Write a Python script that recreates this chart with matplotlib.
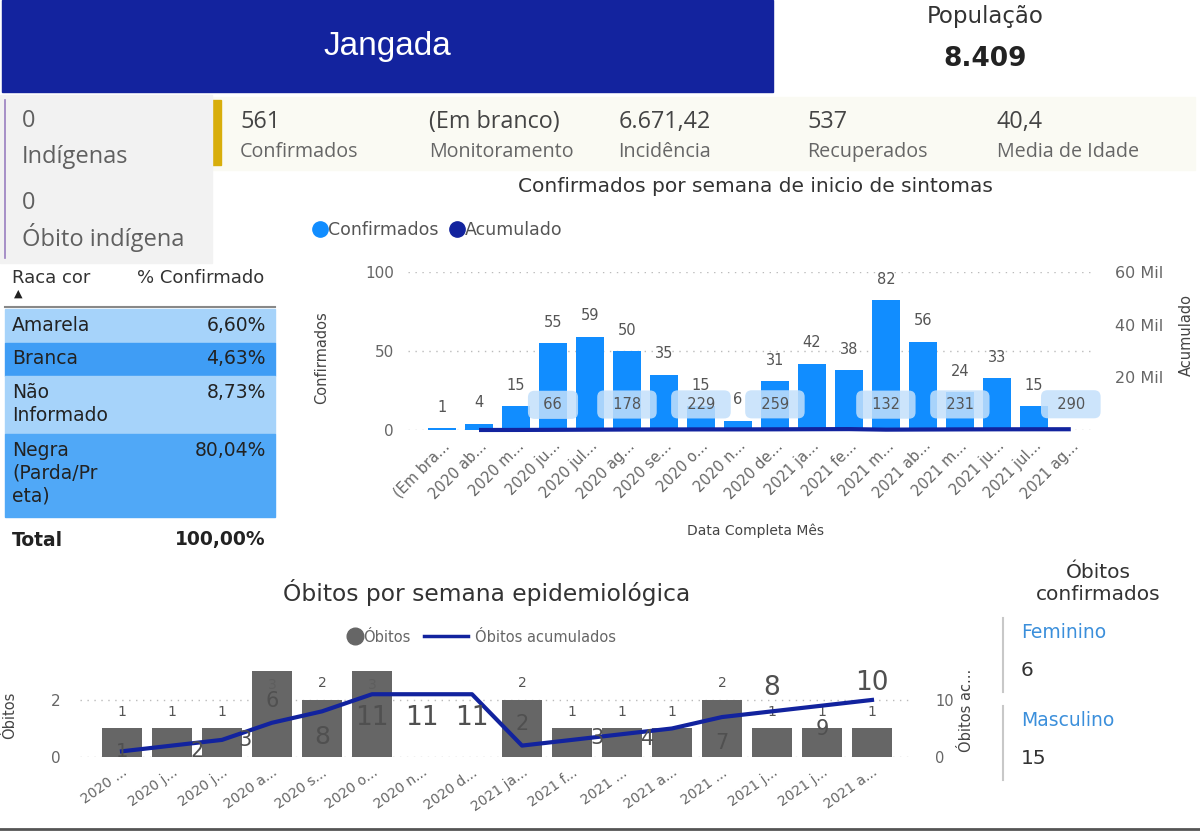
import numpy as np
import matplotlib
matplotlib.use("Agg")
import matplotlib.pyplot as plt
from matplotlib.patches import Rectangle
from matplotlib.lines import Line2D
from matplotlib.ticker import FuncFormatter

W, H = 1200, 832

# ---- dados ----
municipio = "Jangada"
populacao = "8.409"
kpi_values = ["561", "(Em branco)", "6.671,42", "537", "40,4"]
kpi_labels = ["Confirmados", "Monitoramento", "Incidência", "Recuperados", "Media de Idade"]
indigenas = 0
obito_indigena = 0

raca = ["Amarela", "Branca", "Não\nInformado", "Negra\n(Parda/Pr\neta)"]
pct_confirmado = [6.60, 4.63, 8.73, 80.04]

meses = ["(Em bra...", "2020 ab...", "2020 m...", "2020 ju...", "2020 jul...", "2020 ag...",
         "2020 se...", "2020 o...", "2020 n...", "2020 de...", "2021 ja...", "2021 fe...",
         "2021 m...", "2021 ab...", "2021 m...", "2021 ju...", "2021 jul...", "2021 ag..."]
confirmados = [1, 4, 15, 55, 59, 50, 35, 15, 6, 31, 42, 38, 82, 56, 24, 33, 15, np.nan]
acumulado = [np.nan, 5, 20, 66, 125, 178, 213, 229, 235, 259, 301, 339, 132, 188, 231, 264, 279, 290]
acum_rotulos = [3, 5, 7, 9, 12, 14, 17]  # pontos com rotulo visivel

semanas = ["2020 ...", "2020 j...", "2020 j...", "2020 a...", "2020 s...", "2020 o...",
           "2020 n...", "2020 d...", "2021 ja...", "2021 f...", "2021 ...", "2021 a...",
           "2021 ...", "2021 j...", "2021 j...", "2021 a..."]
obitos = [1, 1, 1, 3, 2, 3, np.nan, np.nan, 2, 1, 1, 1, 2, 1, 1, 1]
obitos_acum = [1, 2, 3, 6, 8, 11, 11, 11, 2, 3, 4, 5, 7, 8, 9, 10]

sexo = ["Feminino", "Masculino"]
obitos_sexo = [6, 15]

# ---- estilo ----
AZUL = "#118DFF"
NAVY = "#12239E"
CINZA = "#666666"
row_colors = ["#A6D3FA", "#3F9DF5", "#A6D3FA", "#50A8F7"]
# deslocamento (px) e tamanho dos rotulos do acumulado de obitos
acum_off = [(0, 0), (25, -5), (23, 0), (0, 22), (0, -26), (0, -24), (0, -24), (0, -24),
            (0, 22), (25, 2), (26, -5), None, (0, -26), (0, 23), (0, -23), (0, 17)]
acum_size = [14, 15, 15, 15, 18, 19, 19, 19, 15, 15, 15, 15, 15, 19, 15, 19]

plt.rcParams['font.family'] = ['DejaVu Sans']

fig = plt.figure(figsize=(12, 8.32), dpi=100)
bg = fig.add_axes([0, 0, 1, 1])
bg.set_xlim(0, W)
bg.set_ylim(H, 0)
bg.axis('off')


def px_axes(x0, y0, x1, y1):
    return fig.add_axes([x0 / W, 1 - y1 / H, (x1 - x0) / W, (y1 - y0) / H])


# cabecalho
bg.add_patch(Rectangle((2, 0), 771, 92, color="#13239E"))
bg.text(387, 46, municipio, color="white", fontsize=24, ha="center", va="center",
        family="Liberation Sans")
bg.text(985, 17, "População", fontsize=16.5, ha="center", va="center", color="#333333")
bg.text(985, 59, populacao, fontsize=19, fontweight="bold", ha="center", va="center",
        color="#222222")

# faixa de indicadores
bg.add_patch(Rectangle((205, 97), 990, 73, color="#FAFAF3"))
bg.add_patch(Rectangle((207, 100), 14, 65, color="#D8AE0B"))
for i, (v, l) in enumerate(zip(kpi_values, kpi_labels)):
    xk = 240 + 189.2 * i
    bg.text(xk, 122, v, fontsize=16.8, va="center", color="#444444", family="Open Sans")
    bg.text(xk, 152, l, fontsize=14.2, va="center", color="#666666", family="Open Sans")

# painel indigenas
bg.add_patch(Rectangle((0, 95), 212, 168, color="#F2F2F2"))
bg.plot([5, 5], [100, 258], color="#9A7FC0", lw=1.2)
for yy, t in zip([121, 157, 203, 238],
                 [str(indigenas), "Indígenas", str(obito_indigena), "Óbito indígena"]):
    bg.text(22, yy, t, fontsize=17, va="center", color="#606060", family="Open Sans")

# tabela raca/cor
bg.text(12, 278, "Raca cor", fontsize=13, va="center", color="#333333")
bg.text(264, 278, "% Confirmado", fontsize=13, va="center", ha="right", color="#333333")
bg.text(18, 294, "▲", fontsize=8, ha="center", va="center", color="#222222")
top = 309
for nome, p, c in zip(raca, pct_confirmado, row_colors):
    n = nome.count("\n") + 1
    h = 9 + 24.5 * n
    bg.add_patch(Rectangle((5, top), 270, h, color=c))
    bg.text(12, top + 7, nome, fontsize=13.5, va="top", color="#222222", linespacing=1.25)
    bg.text(266, top + 7, f"{p:.2f}%".replace(".", ","), fontsize=13.5, va="top",
            ha="right", color="#222222")
    top += h
bg.plot([5, 275], [307, 307], color="#888888", lw=1.5)
bg.text(12, 540, "Total", fontsize=13.5, fontweight="bold", va="center", color="#222222")
bg.text(266, 540, f"{sum(pct_confirmado):.2f}%".replace(".", ","), fontsize=13.5,
        fontweight="bold", va="center", ha="right", color="#222222")

# ---- grafico confirmados ----
bg.text(755, 186, "Confirmados por semana de inicio de sintomas", fontsize=14.5,
        ha="center", va="center", color="#333333")
ax = px_axes(408, 272, 1093, 430)
x = np.arange(len(meses))
ax.bar(x, confirmados, width=0.76, color=AZUL, zorder=2)
for i, v in enumerate(confirmados):
    if not np.isnan(v):
        ax.annotate(f"{v:.0f}", (i, v), xytext=(0, 15), textcoords="offset points",
                    ha="center", va="center", fontsize=10.5, color="#555555")
ax.set_xlim(-0.92, 17.6)
ax.set_ylim(0, 100)
ax.set_yticks([0, 50, 100])
ax.set_xticks(x)
ax.set_xticklabels(meses, rotation=45, ha="right", rotation_mode="anchor")
ax.tick_params(axis="x", length=0, pad=6, labelsize=10.5, labelcolor="#666666")
ax.tick_params(axis="y", length=0, pad=10, labelsize=11, labelcolor="#666666")
ax.yaxis.grid(True, linestyle=(0, (1, 4)), color="#BBBBBB", lw=1)
ax.set_axisbelow(True)
for s in ax.spines.values():
    s.set_visible(False)
ax.set_ylabel("Confirmados", fontsize=10.5, color="#444444")
ax.yaxis.set_label_coords(-0.115, 0.46)
ax.set_xlabel("Data Completa Mês", fontsize=10, color="#444444")
ax.xaxis.set_label_coords(0.507, -0.59)

ax2 = ax.twinx()
ax2.plot(x, acumulado, color=NAVY, lw=3, clip_on=False, solid_capstyle="butt")
for i in acum_rotulos:
    ax2.annotate(f"  {acumulado[i]}  ", (i, acumulado[i]), xytext=(0, 18),
                 textcoords="offset points", ha="center", va="center", fontsize=10.5,
                 color="#555555",
                 bbox=dict(boxstyle="round,pad=0.45", fc="#C4E0FB", ec="none", alpha=0.85))
ax2.set_ylim(0, 60000)
ax2.set_yticks([20000, 40000, 60000])
ax2.yaxis.set_major_formatter(FuncFormatter(lambda v, p: f"{v / 1000:.0f} Mil"))
ax2.tick_params(axis="y", length=0, pad=16, labelsize=11.5, labelcolor="#666666")
for s in ax2.spines.values():
    s.set_visible(False)
ax2.set_ylabel("Acumulado", fontsize=10.5, color="#444444")
ax2.yaxis.set_label_coords(1.125, 0.60)

h1 = [Line2D([], [], marker="o", ls="", color=AZUL, ms=11),
      Line2D([], [], marker="o", ls="", color=NAVY, ms=11)]
leg = ax.legend(h1, ["Confirmados", "Acumulado"], loc="center left",
                bbox_to_anchor=(314 / W, 1 - 230 / H), bbox_transform=fig.transFigure,
                ncol=2, frameon=False, fontsize=12.5, handlelength=0.7, handletextpad=0.1,
                columnspacing=0.7, borderpad=0, borderaxespad=0)
for t in leg.get_texts():
    t.set_color("#555555")

# ---- grafico obitos ----
bg.text(487, 593, "Óbitos por semana epidemiológica", fontsize=16.8, ha="center",
        va="center", color="#333333")
bx = px_axes(80, 660, 913, 757)
xs = np.arange(len(semanas))
bx.bar(xs, obitos, width=0.8, color=CINZA, zorder=2)
for i, v in enumerate(obitos):
    if np.isnan(v):
        continue
    if v >= 3:
        bx.annotate(f"{v:.0f}", (i, v), xytext=(0, -10), textcoords="offset points",
                    ha="center", va="center", fontsize=10, color="#5E5E5E")
    else:
        bx.annotate(f"{v:.0f}", (i, v), xytext=(0, 12), textcoords="offset points",
                    ha="center", va="center", fontsize=10, color="#555555")
bx.set_xlim(-0.84, 15.82)
bx.set_ylim(0, 3.4)
bx.set_yticks([0, 2])
bx.set_xticks(xs)
bx.set_xticklabels(semanas, rotation=35, ha="right", rotation_mode="anchor")
bx.tick_params(axis="x", length=0, pad=6, labelsize=10, labelcolor="#666666")
bx.tick_params(axis="y", length=0, pad=14, labelsize=11, labelcolor="#666666")
bx.yaxis.grid(True, linestyle=(0, (1, 4)), color="#BBBBBB", lw=1)
bx.set_axisbelow(True)
for s in bx.spines.values():
    s.set_visible(False)
bx.set_ylabel("Óbitos", fontsize=10.5, color="#444444")
bx.yaxis.set_label_coords(-0.076, 0.43)

bx2 = bx.twinx()
bx2.plot(xs, obitos_acum, color=NAVY, lw=3)
for i, v in enumerate(obitos_acum):
    if acum_off[i] is None:
        continue
    dx, dy = acum_off[i]
    bx2.annotate(str(v), (i, v), xytext=(dx * 0.72, dy * 0.72), textcoords="offset points",
                 ha="center", va="center", fontsize=acum_size[i], color="#505050")
bx2.set_ylim(0, 17)
bx2.set_yticks([0, 10])
bx2.tick_params(axis="y", length=0, pad=16, labelsize=10.5, labelcolor="#666666")
for s in bx2.spines.values():
    s.set_visible(False)
bx2.set_ylabel("Óbitos ac...", fontsize=10.5, color="#444444")
bx2.yaxis.set_label_coords(1.055, 0.48)

leg1 = bx.legend([Line2D([], [], marker="o", ls="", color=CINZA, ms=12)], ["Óbitos"],
                 loc="center left", bbox_to_anchor=(349 / W, 1 - 637 / H),
                 bbox_transform=fig.transFigure, frameon=False, fontsize=10.5,
                 handlelength=0.8, handletextpad=0.15, borderpad=0, borderaxespad=0)
for t in leg1.get_texts():
    t.set_color("#666666")
bx.add_artist(leg1)
leg2 = bx.legend([Line2D([], [], color=NAVY, lw=2.5)], ["Óbitos acumulados"],
                 loc="center left", bbox_to_anchor=(424 / W, 1 - 637 / H),
                 bbox_transform=fig.transFigure, frameon=False, fontsize=10.5,
                 handlelength=3.0, handletextpad=0.5, borderpad=0, borderaxespad=0)
for t in leg2.get_texts():
    t.set_color("#666666")

# ---- obitos por sexo ----
bg.text(1098, 583, "Óbitos\nconfirmados", fontsize=14.5, ha="center", va="center",
        color="#333333", linespacing=1.2)
for k, (s, n) in enumerate(zip(sexo, obitos_sexo)):
    y0 = 618 + 88 * k
    bg.plot([1003, 1003], [y0, y0 + 74], color="#C8C8C8", lw=1.5)
    bg.text(1021, y0 + 14, s, fontsize=13.5, va="center", color="#3B8FDB")
    bg.text(1021, y0 + 53, str(n), fontsize=14.5, va="center", color="#333333")

bg.plot([0, W], [829, 829], color="#555555", lw=2)

fig.savefig("out.png", dpi=100)
